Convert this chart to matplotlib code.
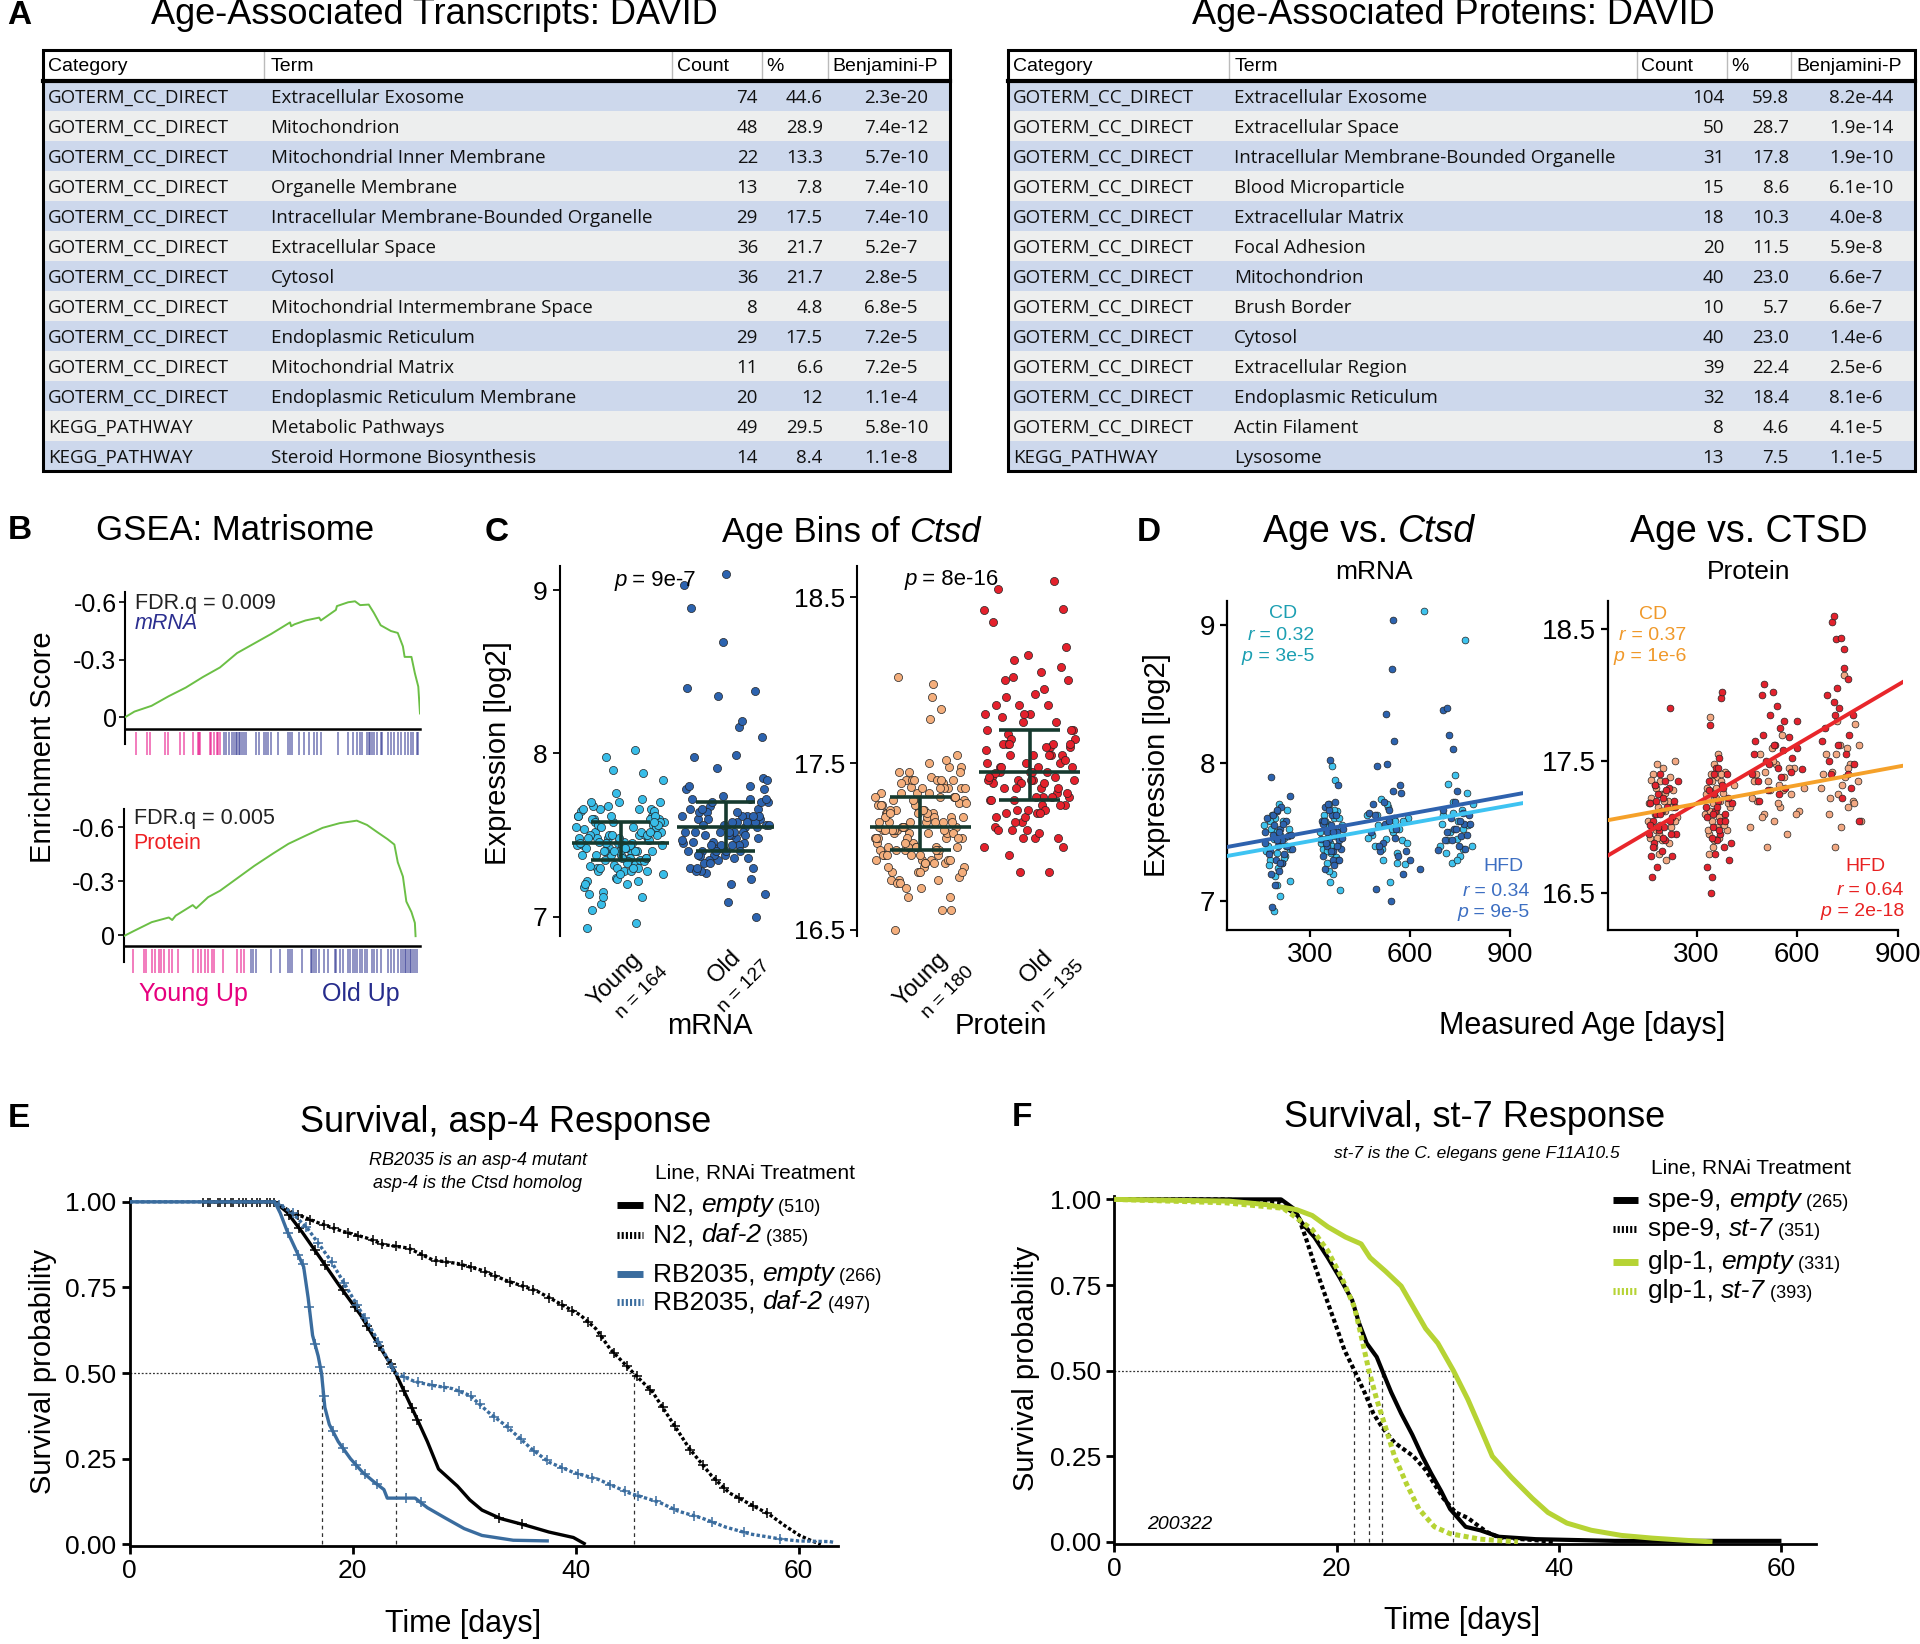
import numpy as np
import matplotlib
matplotlib.use('Agg')
import matplotlib.pyplot as plt
from matplotlib.patches import Rectangle
from matplotlib.offsetbox import TextArea, HPacker, AnnotationBbox

REG = ['Liberation Sans', 'DejaVu Sans']
TAB = ['Open Sans', 'DejaVu Sans']
plt.rcParams['font.family'] = REG

# ---------------- A: DAVID tables ----------------
tx_cat = ['GOTERM_CC_DIRECT'] * 11 + ['KEGG_PATHWAY'] * 2
tx_term = ['Extracellular Exosome', 'Mitochondrion', 'Mitochondrial Inner Membrane',
           'Organelle Membrane', 'Intracellular Membrane-Bounded Organelle',
           'Extracellular Space', 'Cytosol', 'Mitochondrial Intermembrane Space',
           'Endoplasmic Reticulum', 'Mitochondrial Matrix',
           'Endoplasmic Reticulum Membrane', 'Metabolic Pathways',
           'Steroid Hormone Biosynthesis']
tx_count = [74, 48, 22, 13, 29, 36, 36, 8, 29, 11, 20, 49, 14]
tx_pct = ['44.6', '28.9', '13.3', '7.8', '17.5', '21.7', '21.7', '4.8', '17.5', '6.6', '12', '29.5', '8.4']
tx_p = ['2.3e-20', '7.4e-12', '5.7e-10', '7.4e-10', '7.4e-10', '5.2e-7', '2.8e-5',
        '6.8e-5', '7.2e-5', '7.2e-5', '1.1e-4', '5.8e-10', '1.1e-8']

pr_cat = ['GOTERM_CC_DIRECT'] * 12 + ['KEGG_PATHWAY']
pr_term = ['Extracellular Exosome', 'Extracellular Space',
           'Intracellular Membrane-Bounded Organelle', 'Blood Microparticle',
           'Extracellular Matrix', 'Focal Adhesion', 'Mitochondrion', 'Brush Border',
           'Cytosol', 'Extracellular Region', 'Endoplasmic Reticulum', 'Actin Filament',
           'Lysosome']
pr_count = [104, 50, 31, 15, 18, 20, 40, 10, 40, 39, 32, 8, 13]
pr_pct = ['59.8', '28.7', '17.8', '8.6', '10.3', '11.5', '23.0', '5.7', '23.0', '22.4', '18.4', '4.6', '7.5']
pr_p = ['8.2e-44', '1.9e-14', '1.9e-10', '6.1e-10', '4.0e-8', '5.9e-8', '6.6e-7',
        '6.6e-7', '1.4e-6', '2.5e-6', '8.1e-6', '4.1e-5', '1.1e-5']

# ---------------- B: GSEA running scores (rank, ES) and hits ----------------
m_n = 863
m_rank = [0, 28, 78, 128, 178, 228, 278, 328, 378, 428, 483, 486, 496, 528, 568, 573, 617,
          620, 653, 673, 688, 713, 728, 748, 778, 798, 813, 818, 838, 848, 858, 863]
m_es = [0, -0.03, -0.06, -0.11, -0.155, -0.21, -0.26, -0.335, -0.385, -0.435, -0.495,
        -0.475, -0.485, -0.505, -0.52, -0.505, -0.56, -0.58, -0.60, -0.605, -0.585, -0.588,
        -0.545, -0.48, -0.45, -0.44, -0.37, -0.315, -0.315, -0.23, -0.16, -0.02]
m_hits_young = [32, 66, 72, 116, 126, 160, 174, 198, 213, 216, 220, 248, 253, 260, 268, 273, 278]
m_hits_old = [290, 296, 303, 313, 318, 325, 328, 333, 338, 343, 348, 353, 383, 393, 408, 413,
              418, 428, 448, 478, 483, 488, 508, 523, 538, 553, 563, 573, 623, 653, 668, 678,
              688, 693, 708, 713, 718, 723, 728, 738, 748, 753, 768, 778, 788, 798, 808, 818,
              828, 838, 843, 853, 858]

p_n = 867
p_rank = [0, 32, 82, 132, 142, 152, 202, 212, 247, 282, 332, 382, 437, 482, 532, 582, 632,
          682, 712, 742, 772, 792, 802, 817, 827, 842, 852, 854]
p_es = [0.005, -0.026, -0.073, -0.099, -0.085, -0.109, -0.168, -0.15, -0.212, -0.248, -0.317,
        -0.386, -0.455, -0.509, -0.554, -0.598, -0.624, -0.638, -0.614, -0.574, -0.535,
        -0.505, -0.406, -0.327, -0.188, -0.129, -0.069, 0.005]
p_hits_young = [28, 60, 64, 82, 92, 102, 110, 117, 132, 142, 160, 202, 217, 227, 237, 247, 257,
                264, 292, 332, 342, 352]
p_hits_old = [372, 377, 387, 432, 457, 482, 487, 492, 522, 547, 552, 557, 562, 572, 587, 597,
              617, 622, 632, 642, 657, 662, 672, 677, 682, 692, 697, 707, 712, 727, 732, 742,
              752, 772, 782, 792, 802, 812, 817, 822, 827, 832, 837, 842, 847, 852, 857]

# ---------------- C / D: Ctsd per mouse (age in days, log2 expression) ----------------
mrna_cd_age = [160, 172, 180, 185, 190, 195, 198, 200, 205, 208, 210, 215, 218, 220, 225, 230,
               235, 240, 190, 200, 210, 175, 168, 183, 193, 203, 213, 228, 238, 178, 198, 222,
               330, 338, 342, 348, 350, 355, 358, 360, 362, 365, 368, 370, 372, 375, 378, 380,
               385, 390, 395, 345, 360, 375, 334, 344, 352, 363, 371, 383, 392, 356, 366, 388,
               470, 485, 495, 505, 512, 520, 528, 535, 540, 548, 552, 555, 560, 568, 575, 585,
               595, 643, 475, 500, 515, 532, 545, 562, 580, 590,
               690, 700, 708, 715, 720, 725, 730, 735, 740, 745, 750, 755, 760, 765, 775, 790,
               695, 712, 728, 742, 758, 770, 785]
mrna_cd_val = [7.55, 7.40, 7.30, 7.62, 7.45, 7.18, 7.50, 7.35, 7.70, 7.42, 7.04, 7.28, 7.58,
               7.46, 7.33, 7.66, 7.52, 7.38, 6.93, 7.12, 7.48, 7.26, 7.36, 7.52, 7.60, 7.24,
               7.44, 7.40, 7.15, 7.58, 7.46, 7.31,
               7.50, 7.38, 7.62, 7.45, 7.28, 7.56, 7.70, 7.42, 7.35, 7.98, 7.52, 7.20, 7.60,
               7.47, 7.32, 7.65, 7.40, 7.08, 7.55, 7.44, 7.14, 7.88, 7.42, 7.58, 7.36, 7.48,
               7.66, 7.30, 7.54, 7.22, 7.40, 7.60,
               7.62, 7.48, 7.40, 7.55, 7.74, 7.30, 7.45, 7.68, 7.14, 7.50, 7.60, 7.58, 7.35,
               7.52, 7.44, 7.27, 7.60, 9.10, 7.46, 7.62, 7.38, 7.70, 7.52, 7.28, 7.58, 7.42,
               7.40, 7.62, 7.35, 7.85, 7.50, 7.28, 7.72, 7.91, 7.45, 7.58, 7.33, 7.66, 7.38,
               8.89, 7.55, 7.70, 7.56, 7.44, 7.64, 7.30, 7.52, 7.78, 7.40]
mrna_hfd_age = [165, 170, 178, 182, 188, 192, 196, 200, 204, 206, 210, 212, 216, 222, 226, 232,
                238, 245, 185, 195, 205, 215, 163, 176, 187, 199, 209, 219, 229, 241, 181, 201,
                332, 336, 340, 346, 350, 352, 356, 360, 364, 366, 370, 374, 376, 380, 384, 388,
                392, 398, 344, 358, 368, 382, 338, 348, 355, 362, 369, 378, 386, 396, 342, 373,
                478, 490, 498, 502, 510, 518, 525, 530, 538, 542, 546, 550, 558, 565, 572, 580,
                600, 630, 528, 548, 552, 482, 495, 508, 522, 536, 555, 570, 588,
                685, 700, 705, 712, 718, 722, 728, 733, 738, 742, 748, 752, 758, 762, 770, 780,
                698, 710, 725, 736, 750, 765, 778]
mrna_hfd_val = [7.42, 7.60, 7.36, 7.90, 7.48, 7.55, 7.30, 7.65, 7.40, 7.22, 7.52, 7.68, 7.44,
                7.34, 7.58, 7.47, 7.76, 7.38, 6.96, 7.12, 7.50, 7.28, 7.50, 7.34, 7.62, 7.44,
                7.28, 7.56, 7.40, 7.48, 7.20, 7.66,
                7.45, 7.58, 7.33, 7.68, 7.50, 7.40, 7.45, 8.02, 7.55, 7.62, 7.36, 7.48, 7.72,
                7.50, 7.84, 7.44, 7.38, 7.52, 7.23, 7.66, 7.30, 7.40, 7.56, 7.42, 7.70, 7.36,
                7.50, 7.62, 7.30, 7.46, 7.58, 7.26,
                7.64, 7.70, 7.09, 7.98, 7.36, 7.42, 7.56, 7.99, 7.66, 7.00, 8.68, 7.80, 7.52,
                7.33, 7.78, 7.20, 7.30, 7.23, 8.35, 9.03, 8.16, 7.50, 7.62, 7.40, 7.72, 7.58,
                7.46, 7.84, 7.36,
                7.37, 8.38, 7.44, 8.40, 8.20, 7.60, 8.10, 7.52, 7.52, 7.80, 7.40, 7.47, 7.64,
                7.56, 7.48, 7.56, 7.66, 7.50, 7.44, 7.72, 7.58, 7.38, 7.62]

prot_cd_age = [155, 160, 165, 170, 172, 175, 178, 180, 182, 185, 188, 190, 192, 195, 198, 200,
               205, 210, 215, 220, 225, 230, 235, 240, 157, 167, 177, 187, 197, 207, 217, 227,
               237, 163, 183, 203,
               325, 330, 335, 338, 340, 342, 345, 348, 350, 352, 355, 358, 360, 362, 365, 368,
               370, 372, 375, 380, 385, 390, 400, 410, 327, 333, 341, 347, 353, 359, 367, 374,
               383, 395, 337, 357,
               460, 470, 480, 490, 500, 505, 510, 518, 525, 530, 538, 545, 550, 555, 560, 570,
               580, 590, 605, 620, 465, 478, 495, 512, 528, 542, 558, 575, 595,
               672, 685, 695, 705, 712, 718, 722, 728, 732, 738, 742, 748, 752, 758, 765, 772,
               780, 790, 678, 698, 715, 735, 750, 768, 785]
prot_cd_val = [17.05, 16.92, 17.22, 17.40, 16.85, 17.10, 17.30, 16.98, 17.48, 17.15, 16.80,
               17.35, 17.02, 17.25, 16.90, 17.45, 17.12, 16.75, 17.20, 17.38, 17.00, 17.28,
               17.50, 17.08, 17.18, 17.00, 17.32, 16.95, 17.12, 17.26, 16.88, 17.15, 17.05,
               17.36, 16.92, 17.20,
               17.10, 17.30, 17.22, 16.95, 17.83, 17.40, 17.05, 17.18, 16.85, 17.48, 17.28,
               17.12, 17.00, 17.38, 17.55, 16.92, 17.20, 17.35, 17.08, 17.26, 17.42, 16.98,
               17.15, 17.32, 17.25, 16.98, 17.12, 17.35, 16.90, 17.22, 17.08, 17.40, 17.02,
               17.18, 16.80, 17.30,
               17.00, 17.35, 17.20, 17.55, 17.10, 17.42, 16.85, 17.28, 17.60, 17.05, 17.48,
               17.32, 17.15, 17.70, 17.38, 16.95, 17.25, 17.45, 17.12, 17.30, 17.22, 17.40,
               17.08, 17.35, 17.50, 17.18, 17.28, 17.45, 17.10,
               17.30, 17.55, 17.10, 17.42, 16.85, 17.80, 17.25, 17.62, 17.00, 18.15, 17.38,
               17.60, 17.15, 17.48, 17.20, 17.78, 17.35, 17.05, 17.40, 17.22, 17.55, 17.32,
               17.45, 17.18, 17.62]
prot_hfd_age = [158, 162, 168, 171, 174, 177, 180, 183, 186, 189, 191, 194, 197, 200, 203, 207,
                212, 218, 222, 226, 228, 232, 238, 244, 160, 170, 179, 190, 199, 209, 220, 235,
                165, 185, 205, 225,
                328, 332, 336, 340, 343, 346, 349, 351, 354, 356, 359, 361, 364, 366, 369, 371,
                374, 377, 379, 382, 386, 392, 398, 405, 330, 338, 345, 352, 360, 367, 375, 384,
                395, 402, 348, 363,
                465, 475, 485, 495, 502, 508, 512, 520, 528, 533, 540, 544, 548, 552, 558, 565,
                575, 585, 598, 615, 470, 482, 498, 515, 530, 546, 562, 580, 600,
                675, 690, 700, 705, 709, 712, 716, 720, 725, 730, 735, 740, 745, 750, 755, 760,
                770, 785, 682, 695, 710, 722, 738, 752, 765]
prot_hfd_val = [16.95, 17.18, 16.62, 17.05, 16.88, 17.32, 17.10, 16.70, 17.25, 16.98, 17.40,
                17.12, 16.82, 17.22, 17.00, 16.90, 17.15, 17.30, 17.90, 16.78, 17.08, 17.20,
                16.95, 17.35, 17.02, 16.85, 17.20, 17.10, 16.92, 17.28, 17.05, 17.15, 16.78,
                17.00, 17.35, 16.95,
                17.15, 16.70, 17.35, 17.77, 16.50, 16.62, 17.00, 17.25, 16.80, 17.12, 17.45,
                16.90, 17.20, 17.52, 16.95, 17.05, 17.98, 18.02, 17.30, 16.85, 17.10, 17.40,
                16.75, 17.18, 17.08, 17.28, 16.92, 17.40, 17.15, 16.98, 17.32, 17.05, 17.22,
                16.88, 17.10, 17.45,
                17.40, 17.65, 17.20, 18.00, 18.08, 17.50, 17.28, 17.85, 18.02, 17.62, 17.92,
                17.45, 17.75, 17.38, 17.58, 17.30, 17.68, 17.52, 17.80, 17.44, 17.55, 17.35,
                17.70, 17.48, 17.62, 17.25, 17.80, 17.42, 17.60,
                17.65, 18.00, 17.40, 18.55, 18.60, 17.85, 18.42, 18.05, 17.90, 18.43, 17.22,
                18.35, 17.55, 18.12, 17.70, 17.30, 17.48, 17.05, 17.75, 17.50, 17.95, 17.62,
                18.20, 17.40, 17.85]
young_cutoff = 450  # days

# ---------------- E / F: survival (days, fraction alive) ----------------
e_n2_empty_t = [6.5, 13, 14.1, 15.5, 17, 18.7, 20.7, 21.8, 23.7, 25, 26, 26.7, 27.7, 29.4, 30.5,
                31.6, 33.3, 35.5, 37.6, 39.8, 40.9]
e_n2_empty_s = [1, 1, 0.97, 0.91, 0.84, 0.76, 0.67, 0.61, 0.51, 0.42, 0.35, 0.30, 0.22, 0.17,
                0.13, 0.10, 0.075, 0.056, 0.036, 0.02, 0.0]
e_n2_daf2_t = [6.5, 13, 14.5, 16.8, 19, 21.2, 22.8, 25, 27.2, 29.4, 31.6, 33.8, 36.5, 38.2, 40.4,
               41.8, 43.1, 45.2, 46.9, 48.6, 50.2, 52.2, 53.8, 55.5, 57.4, 58.7, 60.1, 61.2, 62]
e_n2_daf2_s = [1, 1, 0.97, 0.94, 0.915, 0.895, 0.875, 0.865, 0.83, 0.82, 0.80, 0.77, 0.74, 0.71,
               0.67, 0.63, 0.57, 0.50, 0.445, 0.36, 0.28, 0.20, 0.15, 0.12, 0.087, 0.056, 0.026,
               0.01, 0.0]
e_rb_empty_t = [0, 13, 13.5, 14.1, 14.9, 15.6, 16.0, 16.4, 16.9, 17.2, 17.5, 17.9, 18.7, 19.8,
                20.9, 22, 22.8, 23.1, 25.6, 26.7, 28.3, 30, 31.6, 34.4, 37.6]
e_rb_empty_s = [1, 1, 0.967, 0.916, 0.86, 0.81, 0.72, 0.61, 0.55, 0.50, 0.40, 0.35, 0.30, 0.25,
                0.21, 0.18, 0.16, 0.135, 0.135, 0.107, 0.077, 0.046, 0.026, 0.012, 0.01]
e_rb_daf2_t = [0, 13, 14.5, 16, 18, 20, 22, 23.8, 25.6, 27, 28.9, 30.5, 32.2, 33.8, 36, 37.6,
               39.8, 42, 44.8, 47.5, 49.2, 51.3, 53.5, 55.7, 58.5, 60, 62.8, 63.3]
e_rb_daf2_s = [1, 1, 0.97, 0.92, 0.83, 0.72, 0.61, 0.50, 0.475, 0.465, 0.455, 0.435, 0.385,
               0.345, 0.28, 0.24, 0.21, 0.19, 0.15, 0.123, 0.097, 0.077, 0.05, 0.03, 0.015,
               0.01, 0.008, 0.005]
e_n2_empty_cens = [6.6, 7.2, 7.9, 8.5, 9.1, 9.8, 10.4, 11, 11.7, 12.3, 12.9, 14.3, 15.2, 16.6,
                   17.5, 19.1, 20.2, 21.3, 22.4, 23.4, 24.6, 25.3, 25.8, 33.1, 35.2]
e_n2_daf2_cens = [7, 8.1, 9.3, 10.2, 11.4, 12.6, 15.1, 16.2, 17.4, 18.3, 19.6, 20.5, 21.8, 22.6,
                  23.9, 25.1, 26.2, 27.5, 28.4, 29.8, 30.6, 31.9, 32.8, 34.1, 35.3, 36.2, 37.6,
                  38.8, 39.7, 41.1, 42.3, 43.4, 44.6, 45.5, 46.7, 47.8, 48.9, 50.3, 51.4, 52.6,
                  53.3, 54.7, 55.9, 57.2]
e_rb_empty_cens = [14.2, 15.1, 15.5, 16.1, 16.6, 17.1, 17.4, 18.2, 19.1, 20.3, 21.1, 22.2, 24.8,
                   26.1]
e_rb_daf2_cens = [13.4, 14.6, 15.8, 16.9, 18.1, 19.2, 20.4, 21.1, 22.3, 23.5, 24.6, 25.9, 27.1,
                  28.2, 29.5, 30.6, 31.4, 32.7, 33.9, 35.1, 36.3, 37.4, 38.8, 40.2, 41.5, 43.1,
                  44.4, 45.6, 47.2, 48.8, 50.6, 52.2, 55.1, 58.3]

f_spe_empty_t = [0, 15, 16.1, 16.9, 18, 19.2, 20.3, 21.4, 22, 22.7, 23.6, 24.1, 24.9, 25.8, 26.8,
                 27.7, 28.5, 29.4, 30.2, 31.6, 32.9, 34.6, 37.9, 45, 60]
f_spe_empty_s = [1, 1, 0.974, 0.93, 0.89, 0.83, 0.77, 0.705, 0.64, 0.58, 0.54, 0.50, 0.437,
                 0.375, 0.313, 0.25, 0.20, 0.148, 0.096, 0.044, 0.034, 0.015, 0.008, 0.003, 0.003]
f_spe_st7_t = [0, 10, 15, 15.2, 16.5, 17.2, 18, 18.9, 19.8, 20.7, 21.6, 22.5, 23.3, 24.1, 25.2,
               26.9, 28, 28.8, 29.6, 30.7, 31.8, 32.4, 33.5, 34.6, 37.9, 39.6]
f_spe_st7_s = [1, 1, 0.99, 0.98, 0.953, 0.89, 0.81, 0.726, 0.644, 0.56, 0.50, 0.437, 0.375,
               0.334, 0.29, 0.25, 0.21, 0.168, 0.127, 0.086, 0.07, 0.055, 0.029, 0.013, 0.005, 0.0]
f_glp_empty_t = [0, 10.3, 13.6, 16.4, 17.8, 19.2, 20.8, 22.2, 23, 24.4, 25.8, 26.9, 28, 29.1,
                 30.5, 31.8, 32.9, 34, 35.7, 37.6, 39, 40.7, 42.9, 45.6, 48.4, 51.2, 53.8]
f_glp_empty_s = [1, 0.995, 0.985, 0.97, 0.953, 0.92, 0.89, 0.87, 0.83, 0.79, 0.747, 0.685,
                 0.623, 0.58, 0.50, 0.416, 0.334, 0.25, 0.189, 0.127, 0.086, 0.055, 0.034,
                 0.019, 0.011, 0.005, 0.0]
f_glp_st7_t = [0, 10, 15.2, 17.8, 19.2, 20.5, 21.6, 22.2, 22.9, 23.6, 24.4, 25.2, 26.3, 27.4,
               28.8, 30.2, 32.9, 36.3]
f_glp_st7_s = [1, 0.99, 0.974, 0.912, 0.85, 0.768, 0.685, 0.602, 0.50, 0.416, 0.334, 0.25,
               0.168, 0.096, 0.044, 0.024, 0.008, 0.0]

# ---------------- layout helpers (reference pixel grid 1568 x 1343) ----------------
W, H = 1568, 1343
fig = plt.figure(figsize=(19.2, 16.44), dpi=100)


def add_ax(x0, y0, x1, y1):
    return fig.add_axes([x0 / W, 1 - y1 / H, (x1 - x0) / W, (y1 - y0) / H])


def rich(ax, x, y, parts, align=(0, 0.5), coords='data'):
    boxes = [TextArea(t, textprops=p) for t, p in parts]
    pk = HPacker(children=boxes, align='baseline', pad=0, sep=0)
    ab = AnnotationBbox(pk, (x, y), xycoords=coords, frameon=False,
                        box_alignment=align, pad=0, annotation_clip=False)
    ab.set_zorder(10)
    ax.add_artist(ab)


def style_spines(ax, lw=1.5):
    for s in ['top', 'right']:
        ax.spines[s].set_visible(False)
    for s in ['left', 'bottom']:
        ax.spines[s].set_linewidth(lw)
    ax.tick_params(width=lw, length=5)


# ---------------- B ----------------
def gsea(box, n, rank, es, hy, ho, ylim, hline, spine_lo):
    ax = add_ax(*box)
    ax.plot(rank, es, color='#6BBF45', lw=1.4, zorder=3)
    ax.plot([0, n], [hline, hline], color='black', lw=1.8, clip_on=False)
    ax.vlines(hy, hline + 0.015, ylim[0], color='#E6007E', lw=1.2, alpha=0.6)
    ax.vlines(ho, hline + 0.015, ylim[0], color='#262C8C', lw=1.2, alpha=0.6)
    ax.set_xlim(0, n)
    ax.set_ylim(*ylim)
    for s in ['top', 'right', 'bottom']:
        ax.spines[s].set_visible(False)
    ax.spines['left'].set_linewidth(1.5)
    ax.spines['left'].set_bounds(ylim[1], spine_lo)
    ax.set_xticks([])
    ax.set_yticks([-0.6, -0.3, 0])
    ax.set_yticklabels(['-0.6', '-0.3', '0'])
    ax.tick_params(axis='y', labelsize=18, width=1.2, length=4, pad=2)
    return ax


axb1 = gsea((102, 484, 343, 617), m_n, m_rank, m_es, m_hits_young, m_hits_old,
            (0.198, -0.651), 0.06, 0.14)
axb1.text(29, -0.593, 'FDR.q = 0.009', fontsize=15.5, color='#222222', va='center')
axb1.text(29, -0.487, 'mRNA', fontsize=15.5, color='#2B2E8F', style='italic', va='center')
axb2 = gsea((101, 661, 343, 795), p_n, p_rank, p_es, p_hits_young, p_hits_old,
            (0.211, -0.702), 0.061, 0.15)
axb2.text(29, -0.648, 'FDR.q = 0.005', fontsize=15.5, color='#222222', va='center')
axb2.text(29, -0.51, 'Protein', fontsize=15.5, color='#EE2024', va='center')

# ---------------- C ----------------
mrna_age = np.array(mrna_cd_age + mrna_hfd_age)
mrna_val = np.array(mrna_cd_val + mrna_hfd_val)
prot_age = np.array(prot_cd_age + prot_hfd_age)
prot_val = np.array(prot_cd_val + prot_hfd_val)


def bins(box, age, val, cy, co, ylim, ticks):
    ax = add_ax(*box)
    groups = [val[age < young_cutoff], val[age >= young_cutoff]]
    for i, (v, col) in enumerate(zip(groups, [cy, co])):
        off = ((np.arange(len(v)) * 0.618034) % 1 - 0.5) * 0.84
        ax.scatter(i + off, v, s=34, c=col, edgecolors='#222222', linewidths=0.5, zorder=2)
        q1, med, q3 = np.percentile(v, [25, 50, 75])
        ax.hlines(med, i - 0.46, i + 0.46, color='#163A2F', lw=2.6, zorder=3)
        ax.hlines([q1, q3], i - 0.28, i + 0.28, color='#163A2F', lw=2.6, zorder=3)
        ax.vlines(i, q1, q3, color='#163A2F', lw=2.6, zorder=3)
    ax.set_xlim(-0.58, 1.55)
    ax.set_ylim(*ylim)
    for s in ['top', 'right', 'bottom']:
        ax.spines[s].set_visible(False)
    ax.spines['left'].set_linewidth(1.5)
    ax.set_xticks([])
    ax.set_yticks(ticks)
    ax.set_yticklabels([('%g' % t) for t in ticks])
    ax.tick_params(axis='y', labelsize=19, width=1.3, length=5)
    return ax


bins((457, 462, 640, 765), mrna_age, mrna_val, '#38BDE8', '#2C63AF', (6.88, 9.15), [7, 8, 9])
bins((700, 462, 890, 765), prot_age, prot_val, '#F4AE7C', '#E4212C', (16.46, 18.69),
     [16.5, 17.5, 18.5])

# ---------------- D ----------------
def agefit(box, xa, xv, ya, yv, c_cd, c_hfd, l_cd, l_hfd, xlim, ylim, ticks, order):
    ax = add_ax(*box)
    ax.scatter(xa, xv, s=24, c=c_cd, edgecolors='#222222', linewidths=0.5, zorder=2)
    ax.scatter(ya, yv, s=24, c=c_hfd, edgecolors='#222222', linewidths=0.5, zorder=2)
    xs = np.array(xlim, dtype=float)
    fits = {'cd': (xa, xv, l_cd), 'hfd': (ya, yv, l_hfd)}
    for k in order:
        a, v, col = fits[k]
        slope, icpt = np.polyfit(a, v, 1)
        ax.plot(xs, slope * xs + icpt, color=col, lw=2.8, zorder=4)
    ax.set_xlim(*xlim)
    ax.set_ylim(*ylim)
    style_spines(ax, 1.6)
    ax.spines['bottom'].set_bounds(xlim[0], 900)
    ax.set_xticks([300, 600, 900])
    ax.set_yticks(ticks)
    ax.set_yticklabels([('%g' % t) for t in ticks])
    ax.tick_params(labelsize=20)
    return ax


axd1 = agefit((1002, 491, 1244, 760), mrna_cd_age, mrna_cd_val, mrna_hfd_age, mrna_hfd_val,
              '#3EC3EE', '#2C63AF', '#3EC3F2', '#2E62AE', (50, 940), (6.79, 9.17), [7, 8, 9],
              ['cd', 'hfd'])
axd2 = agefit((1313, 491, 1554, 760), prot_cd_age, prot_cd_val, prot_hfd_age, prot_hfd_val,
              '#F2A882', '#E3222D', '#F5A12A', '#E8262B', (35, 915), (16.22, 18.71),
              [16.5, 17.5, 18.5], ['hfd', 'cd'])


def stat_block(ax, x_lab, x_right, ys, lab, r, p, col):
    ax.text(x_lab, ys[0], lab, color=col, fontsize=14, ha='center', va='center')
    it = dict(color=col, fontsize=14, style='italic')
    rg = dict(color=col, fontsize=14)
    rich(ax, x_right, ys[1], [('r', it), (' = ' + r, rg)], align=(1, 0.5))
    rich(ax, x_right, ys[2], [('p', it), (' = ' + p, rg)], align=(1, 0.5))


stat_block(axd1, 218, 312, (9.08, 8.92, 8.77), 'CD', '0.32', '3e-5', '#1C9FB2')
stat_block(axd1, 879, 959, (7.25, 7.07, 6.92), 'HFD', '0.34', '9e-5', '#3D6FC2')
stat_block(axd2, 171, 268, (18.61, 18.45, 18.29), 'CD', '0.37', '1e-6', '#F0992A')
stat_block(axd2, 802, 918, (16.70, 16.52, 16.36), 'HFD', '0.64', '2e-18', '#E82222')

# ---------------- E / F ----------------
def km(ax, t, s, col, ls, lw, cens=None, z=2):
    ax.plot(t, s, color=col, ls=ls, lw=lw, zorder=z, solid_capstyle='butt')
    if cens:
        ax.plot(cens, np.interp(cens, t, s), ls='none', marker='+', ms=7, mew=1.1,
                color=col, zorder=z)


def median_t(t, s):
    return float(np.interp(0.5, np.array(s)[::-1], np.array(t)[::-1]))


def surv_axes(box, xmax):
    ax = add_ax(*box)
    ax.set_xlim(0, xmax)
    ax.set_ylim(-0.005, 1.01)
    style_spines(ax, 2)
    ax.set_xticks([0, 20, 40, 60])
    ax.set_yticks([0, 0.25, 0.5, 0.75, 1])
    ax.set_yticklabels(['0.00', '0.25', '0.50', '0.75', '1.00'])
    ax.tick_params(labelsize=19, length=6)
    return ax


def medians(ax, meds):
    for m in meds:
        ax.plot([m, m], [0, 0.5], color='#333333', lw=0.9, ls=(0, (3, 3)), zorder=1)
    ax.plot([0, max(meds)], [0.5, 0.5], color='#333333', lw=0.9, ls=(0, (1.5, 1.5)), zorder=1)


DOT = (0, (1.0, 0.7))
axe = surv_axes((106, 979, 684, 1263), 63.5)
km(axe, e_n2_daf2_t, e_n2_daf2_s, 'black', DOT, 2.4, e_n2_daf2_cens)
km(axe, e_n2_empty_t, e_n2_empty_s, 'black', '-', 2.4, e_n2_empty_cens)
km(axe, e_rb_daf2_t, e_rb_daf2_s, '#3A6C9E', DOT, 2.4, e_rb_daf2_cens, z=3)
km(axe, e_rb_empty_t, e_rb_empty_s, '#3A6C9E', '-', 2.4, e_rb_empty_cens, z=3)
medians(axe, [median_t(e_rb_empty_t, e_rb_empty_s), median_t(e_n2_empty_t, e_n2_empty_s),
              median_t(e_n2_daf2_t, e_n2_daf2_s)])

axf = surv_axes((910, 977, 1483, 1261), 63.1)
km(axf, f_spe_st7_t, f_spe_st7_s, 'black', DOT, 3.0)
km(axf, f_spe_empty_t, f_spe_empty_s, 'black', '-', 3.0)
km(axf, f_glp_st7_t, f_glp_st7_s, '#B6D334', DOT, 3.6, z=3)
km(axf, f_glp_empty_t, f_glp_empty_s, '#B6D334', '-', 3.6, z=3)
medians(axf, [median_t(f_spe_st7_t, f_spe_st7_s), median_t(f_glp_st7_t, f_glp_st7_s),
              median_t(f_spe_empty_t, f_spe_empty_s), median_t(f_glp_empty_t, f_glp_empty_s)])
axf.text(5.9, 0.05, '200322', fontsize=14, style='italic', ha='center', va='center')

# ---------------- overlay: tables, titles, labels, legends ----------------
ov = fig.add_axes([0, 0, 1, 1])
ov.set_xlim(0, W)
ov.set_ylim(H, 0)
ov.axis('off')


def table(x0, x1, seps, hx, cx, cats, terms, counts, pcts, ps):
    top, hb, bot = 41, 66, 385
    rh = (bot - hb) / len(cats)
    body = dict(family=TAB, fontsize=13.5, color='#111111', va='center')
    for i in range(len(cats)):
        y = hb + i * rh
        ov.add_patch(Rectangle((x0, y), x1 - x0, rh, fc='#CDD8EC' if i % 2 == 0 else '#EDEEEE',
                               ec='none', zorder=1))
        yc = y + rh / 2 + 1.5
        ov.text(cx[0], yc, cats[i], **body)
        ov.text(cx[1], yc, terms[i], **body)
        ov.text(cx[2], yc, str(counts[i]), ha='right', **body)
        ov.text(cx[3], yc, pcts[i], ha='right', **body)
        ov.text(cx[4], yc, ps[i], ha='left', **body)
    for x in seps:
        ov.plot([x, x], [top, hb], color='#BBBBBB', lw=1, zorder=2)
    for x, lab in zip(hx, ['Category', 'Term', 'Count', '%', 'Benjamini-P']):
        ov.text(x, (top + hb) / 2 + 1, lab, fontsize=14, va='center', zorder=3)
    ov.plot([x0, x1], [hb, hb], color='black', lw=3, zorder=3)
    ov.add_patch(Rectangle((x0, top), x1 - x0, bot - top, fc='none', ec='black', lw=2.2,
                           zorder=4))


table(35, 776, [216, 549, 622, 676], [39, 221, 553, 626, 680], [39, 221, 619, 672, 706],
      tx_cat, tx_term, tx_count, tx_pct, tx_p)
table(823, 1564, [1004, 1337, 1410, 1463], [827, 1008, 1340, 1414, 1467],
      [827, 1008, 1408, 1461, 1494], pr_cat, pr_term, pr_count, pr_pct, pr_p)

BOLD = dict(fontsize=24, fontweight='bold', va='center', ha='left')
ov.text(6, 13, 'A', **BOLD)
ov.text(355, 12, 'Age-Associated Transcripts: DAVID', fontsize=26, ha='center', va='center')
ov.text(1187, 12, 'Age-Associated Proteins: DAVID', fontsize=26, ha='center', va='center')

ov.text(6, 433, 'B', **BOLD)
ov.text(192, 433, 'GSEA: Matrisome', fontsize=25, ha='center', va='center')
ov.text(35, 610, 'Enrichment Score', fontsize=21, rotation=90, ha='center', va='center')
ov.text(158, 812, 'Young Up', fontsize=18, color='#E6007E', ha='center', va='center')
ov.text(295, 812, 'Old Up', fontsize=18, color='#262C8C', ha='center', va='center')

ov.text(396, 435, 'C', **BOLD)
rich(ov, 695, 435, [('Age Bins of ', dict(fontsize=25)), ('Ctsd', dict(fontsize=25, style='italic'))],
     align=(0.5, 0.5))
ov.text(407, 615, 'Expression [log2]', fontsize=21, rotation=90, ha='center', va='center')
rich(ov, 535, 474, [('p', dict(fontsize=16, style='italic')), (' = 9e-7', dict(fontsize=16))],
     align=(0.5, 0.5))
rich(ov, 777, 473, [('p', dict(fontsize=16, style='italic')), (' = 8e-16', dict(fontsize=16))],
     align=(0.5, 0.5))
for (x1, y1, t1), (x2, y2, t2) in [((502, 800, 'Young'), (524, 811, 'n = 164')),
                                   ((592, 790, 'Old'), (608, 806, 'n = 127')),
                                   ((752, 800, 'Young'), (774, 811, 'n = 180')),
                                   ((847, 790, 'Old'), (864, 806, 'n = 135'))]:
    ov.text(x1, y1, t1, fontsize=17, rotation=45, ha='center', va='center')
    ov.text(x2, y2, t2, fontsize=14, rotation=45, ha='center', va='center')
ov.text(580, 838, 'mRNA', fontsize=21, ha='center', va='center')
ov.text(817, 838, 'Protein', fontsize=21, ha='center', va='center')

ov.text(928, 435, 'D', **BOLD)
rich(ov, 1118, 435, [('Age vs. ', dict(fontsize=27)), ('Ctsd', dict(fontsize=27, style='italic'))],
     align=(0.5, 0.5))
ov.text(1428, 435, 'Age vs. CTSD', fontsize=27, ha='center', va='center')
ov.text(1122, 467, 'mRNA', fontsize=19, ha='center', va='center')
ov.text(1428, 467, 'Protein', fontsize=19, ha='center', va='center')
ov.text(945, 625, 'Expression [log2]', fontsize=21, rotation=90, ha='center', va='center')
ov.text(1292, 838, 'Measured Age [days]', fontsize=22, ha='center', va='center')

ov.text(6, 914, 'E', **BOLD)
ov.text(413, 917, 'Survival, asp-4 Response', fontsize=26, ha='center', va='center')
ov.text(390, 948, 'RB2035 is an asp-4 mutant', fontsize=13, style='italic',
        ha='center', va='center')
ov.text(390, 967, 'asp-4 is the Ctsd homolog', fontsize=13, style='italic',
        ha='center', va='center')
ov.text(35, 1120, 'Survival probability', fontsize=21, rotation=90, ha='center', va='center')
ov.text(378, 1327, 'Time [days]', fontsize=22, ha='center', va='center')

ov.text(826, 913, 'F', **BOLD)
ov.text(1204, 913, 'Survival, st-7 Response', fontsize=26, ha='center', va='center')
ov.text(1206, 942, 'st-7 is the C. elegans gene F11A10.5', fontsize=12.5,
        style='italic', ha='center', va='center')
ov.text(838, 1118, 'Survival probability', fontsize=21, rotation=90, ha='center', va='center')
ov.text(1194, 1324, 'Time [days]', fontsize=22, ha='center', va='center')

LG = dict(fontsize=19)
LI = dict(fontsize=19, style='italic')
LN = dict(fontsize=13)
LDOT = (0, (0.3, 0.3))


def legend(x_h, x_t, y_title, rows):
    ov.text(x_t + 2, y_title, 'Line, RNAi Treatment', fontsize=15, va='center')
    for y, col, ls, a, b, n in rows:
        ov.plot([x_h, x_h + 21], [y, y], color=col, lw=5, ls=ls, solid_capstyle='butt')
        rich(ov, x_t, y, [(a, LG), (b, LI), (n, LN)], align=(0, 0.5))


legend(504, 533, 958, [(984, 'black', '-', 'N2, ', 'empty', ' (510)'),
                       (1009, 'black', LDOT, 'N2, ', 'daf-2', ' (385)'),
                       (1041, '#3A6C9E', '-', 'RB2035, ', 'empty', ' (266)'),
                       (1064, '#3A6C9E', LDOT, 'RB2035, ', 'daf-2', ' (497)')])
legend(1317, 1346, 954, [(980, 'black', '-', 'spe-9, ', 'empty', ' (265)'),
                         (1004, 'black', LDOT, 'spe-9, ', 'st-7', ' (351)'),
                         (1031, '#B6D334', '-', 'glp-1, ', 'empty', ' (331)'),
                         (1055, '#B6D334', LDOT, 'glp-1, ', 'st-7', ' (393)')])

fig.savefig('out.png', dpi=100)
